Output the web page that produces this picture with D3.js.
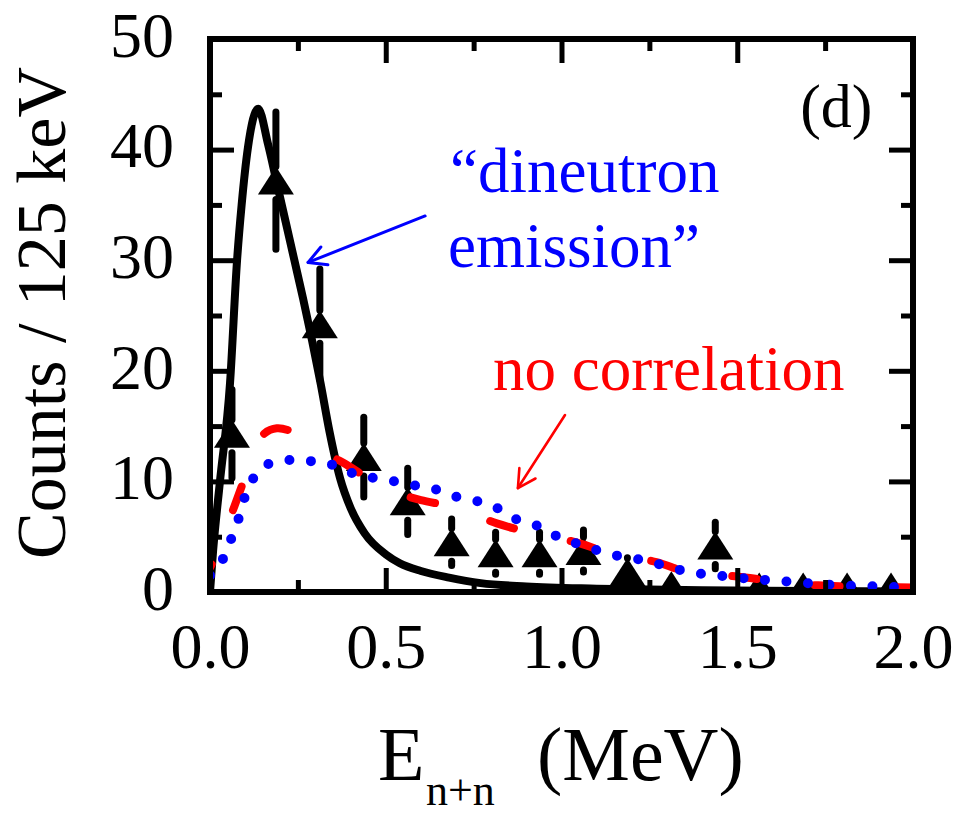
<!DOCTYPE html>
<html>
<head>
<meta charset="utf-8">
<script src="https://cdn.jsdelivr.net/npm/d3@7"></script>
<style>
  html, body { margin: 0; padding: 0; background: #fff; }
  svg { display: block; }
  text { font-family: "Liberation Serif", "Times New Roman", "DejaVu Serif", serif; }
</style>
</head>
<body>
<svg id="chart" width="955" height="815"></svg>
<script>
// Measured n+n relative-energy spectrum (counts per 125 keV bin)
const energyBins = [0.0625, 0.1875, 0.3125, 0.4375, 0.5625, 0.6875, 0.8125, 0.9375,
                    1.0625, 1.1875, 1.3125, 1.4375, 1.5625, 1.6875, 1.8125, 1.9375];
const counts      = [14.3, 37.2, 24.2, 12.2, 8.2, 4.5, 3.5, 3.5,
                     3.7, 1.8, 0.6, 4.2, 0.5, 0.5, 0.5, 0.5];
const countErrors = [4.0, 6.2, 5.0, 3.6, 3.0, 2.1, 1.9, 1.9,
                     1.9, 1.3, 0.8, 2.1, 0.7, 0.7, 0.7, 0.7];

// Model curves: [E (MeV), counts]
const dineutronCurve = [
  [0, 0], [0.009, 3.8], [0.028, 9.9], [0.057, 18.9], [0.077, 30], [0.09, 35],
  [0.108, 40.2], [0.137, 43.7], [0.165, 40.5], [0.19, 37.0], [0.215, 33.5],
  [0.24, 30.0], [0.265, 26.5], [0.29, 22.8], [0.315, 18.8], [0.34, 14.5],
  [0.37, 10.3], [0.40, 7.6], [0.44, 5.3], [0.5, 3.4], [0.54, 2.6], [0.6, 1.9],
  [0.68, 1.3], [0.77, 0.8], [0.9, 0.5], [1.1, 0.3], [1.4, 0.15], [2.0, 0.05]
];
const noCorrelationCurve = [
  [0, 2.2], [0.03, 4.2], [0.062, 7.1], [0.094, 9.9], [0.12, 12.3], [0.15, 14.2],
  [0.19, 14.8], [0.247, 14.3], [0.3, 13.0], [0.378, 11.7], [0.46, 10.1], [0.53, 9.0],
  [0.6, 8.3], [0.69, 7.7], [0.816, 6.2], [0.91, 5.4], [1.04, 4.5], [1.13, 3.6],
  [1.27, 2.7], [1.36, 1.8], [1.5, 1.4], [1.6, 1.0], [1.73, 0.6], [1.85, 0.5], [2.0, 0.4]
];
const dineutronEmissionCurve = [
  [0, 1.5], [0.02, 2.0], [0.05, 4.0], [0.08, 6.5], [0.11, 9.5], [0.15, 11.3],
  [0.21, 11.9], [0.27, 11.85], [0.33, 11.7], [0.39, 10.9], [0.45, 10.4], [0.51, 10.1],
  [0.57, 9.7], [0.63, 9.4], [0.69, 8.7], [0.75, 8.3], [0.81, 7.7], [0.87, 6.6],
  [0.93, 6.0], [0.99, 5.0], [1.05, 4.3], [1.11, 3.7], [1.17, 3.2], [1.23, 2.9],
  [1.29, 2.4], [1.35, 1.9], [1.41, 1.6], [1.47, 1.4], [1.53, 1.2], [1.6, 1.05],
  [1.7, 0.8], [1.8, 0.6], [1.9, 0.5], [2.0, 0.4]
];

// Axis ticks
const xMajorTicks = [0, 0.5, 1.0, 1.5, 2.0];
const xMinorTicks = [0.25, 0.75, 1.25, 1.75];
const yMajorTicks = [0, 10, 20, 30, 40, 50];
const yMinorTicks = [5, 15, 25, 35, 45];

const svg = d3.select("#chart");
const x = d3.scaleLinear().domain([0, 2]).range([210, 913]);
const y = d3.scaleLinear().domain([0, 50]).range([592, 39]);

svg.append("defs").append("clipPath").attr("id", "plot-clip")
  .append("rect")
  .attr("x", x(0)).attr("y", y(50))
  .attr("width", x(2) - x(0)).attr("height", y(0) - y(50));

const plot = svg.append("g").attr("clip-path", "url(#plot-clip)");

// Data points: error bars and filled triangles
const triW = 36, triH = 28;
energyBins.forEach((e, i) => {
  const cx = x(e), cy = y(counts[i]);
  const top = y(counts[i] + countErrors[i]);
  const bot = y(Math.max(counts[i] - countErrors[i], 0));
  if (cy - triH / 2 - top > 0) {
    plot.append("line").attr("x1", cx).attr("x2", cx)
      .attr("y1", top).attr("y2", cy - triH / 2)
      .attr("stroke", "#000").attr("stroke-width", 7).attr("stroke-linecap", "round");
  }
  if (bot - (cy + triH / 2 + 5) > 0) {
    plot.append("line").attr("x1", cx).attr("x2", cx)
      .attr("y1", cy + triH / 2 + 5).attr("y2", bot)
      .attr("stroke", "#000").attr("stroke-width", 7).attr("stroke-linecap", "round");
  }
  plot.append("path")
    .attr("transform", `translate(${cx},${cy})`)
    .attr("d", `M0,${-triH / 2}L${triW / 2},${triH / 2}L${-triW / 2},${triH / 2}Z`)
    .attr("fill", "#000");
});

// Model curves
const line = d3.line().x(d => x(d[0])).y(d => y(d[1]));

plot.append("path")
  .attr("d", line.curve(d3.curveMonotoneX)(dineutronCurve))
  .attr("fill", "none").attr("stroke", "#000").attr("stroke-width", 8)
  .attr("stroke-linejoin", "round");

plot.append("path")
  .attr("d", line.curve(d3.curveCatmullRom)(noCorrelationCurve))
  .attr("fill", "none").attr("stroke", "#ff0000").attr("stroke-width", 8)
  .attr("stroke-linecap", "round").attr("stroke-dasharray", "25,58")
  .attr("stroke-dashoffset", 21);

plot.append("path")
  .attr("d", line.curve(d3.curveCatmullRom)(dineutronEmissionCurve))
  .attr("fill", "none").attr("stroke", "#0000ff").attr("stroke-width", 10)
  .attr("stroke-linecap", "round").attr("stroke-dasharray", "0,21.5");

// Axes with inward ticks on all four sides
function styleAxis(g) {
  g.select(".domain").remove();
  g.attr("font-family", null).attr("font-size", null);
  g.selectAll(".tick line").attr("stroke", "#000").attr("stroke-width", 5);
  g.selectAll(".tick text").attr("fill", "#000").attr("font-size", 64);
}

svg.append("g").attr("transform", `translate(0,${y(0)})`)
  .call(d3.axisBottom(x).tickValues(xMajorTicks).tickSize(-24).tickPadding(31)
    .tickFormat(d3.format(".1f")))
  .call(styleAxis);
svg.append("g").attr("transform", `translate(0,${y(0)})`)
  .call(d3.axisBottom(x).tickValues(xMinorTicks).tickSize(-12).tickFormat(""))
  .call(styleAxis);
svg.append("g").attr("transform", `translate(0,${y(50)})`)
  .call(d3.axisTop(x).tickValues(xMajorTicks).tickSize(-24).tickFormat(""))
  .call(styleAxis);
svg.append("g").attr("transform", `translate(0,${y(50)})`)
  .call(d3.axisTop(x).tickValues(xMinorTicks).tickSize(-12).tickFormat(""))
  .call(styleAxis);

svg.append("g").attr("transform", `translate(${x(0)},0)`)
  .call(d3.axisLeft(y).tickValues(yMajorTicks).tickSize(-24).tickPadding(36)
    .tickFormat(d3.format("d")))
  .call(styleAxis)
  .selectAll(".tick text").attr("dy", "0.27em");
svg.append("g").attr("transform", `translate(${x(0)},0)`)
  .call(d3.axisLeft(y).tickValues(yMinorTicks).tickSize(-12).tickFormat(""))
  .call(styleAxis);
svg.append("g").attr("transform", `translate(${x(2)},0)`)
  .call(d3.axisRight(y).tickValues(yMajorTicks).tickSize(-24).tickFormat(""))
  .call(styleAxis);
svg.append("g").attr("transform", `translate(${x(2)},0)`)
  .call(d3.axisRight(y).tickValues(yMinorTicks).tickSize(-12).tickFormat(""))
  .call(styleAxis);

// Frame
svg.append("rect")
  .attr("x", x(0)).attr("y", y(50))
  .attr("width", x(2) - x(0)).attr("height", y(0) - y(50))
  .attr("fill", "none").attr("stroke", "#000").attr("stroke-width", 6);

// Axis titles
svg.append("text")
  .attr("transform", "translate(65,313) rotate(-90)")
  .attr("text-anchor", "middle").attr("font-size", 70).attr("fill", "#000")
  .text("Counts / 125 keV");

const xTitle = svg.append("text").attr("fill", "#000").attr("y", 780);
xTitle.append("tspan").attr("x", 378).attr("font-size", 76).text("E");
xTitle.append("tspan").attr("x", 426).attr("y", 805).attr("font-size", 44).text("n+n");
xTitle.append("tspan").attr("x", 537).attr("y", 780).attr("font-size", 76).text("(MeV)");

// Panel label
svg.append("text").attr("x", x(1.679)).attr("y", y(42.0))
  .attr("font-size", 62).attr("fill", "#000").text("(d)");

// Annotations
svg.append("text").attr("x", x(0.683)).attr("y", y(36.2))
  .attr("font-size", 63).attr("fill", "#0000ff").text("\u201Cdineutron");
svg.append("text").attr("x", x(0.677)).attr("y", y(29.4))
  .attr("font-size", 63).attr("fill", "#0000ff").text("emission\u201D");
svg.append("text").attr("x", x(0.805)).attr("y", y(18.3))
  .attr("font-size", 63).attr("fill", "#ff0000").text("no correlation");

function arrow(tail, tip, color, width, headLen, headAngle) {
  const x1 = x(tail[0]), y1 = y(tail[1]), x2 = x(tip[0]), y2 = y(tip[1]);
  const a = Math.atan2(y1 - y2, x1 - x2);
  const g = svg.append("g").attr("stroke", color).attr("stroke-width", width)
    .attr("fill", "none").attr("stroke-linecap", "round").attr("stroke-linejoin", "round");
  g.append("line").attr("x1", x1).attr("y1", y1).attr("x2", x2).attr("y2", y2);
  const p = d3.path();
  p.moveTo(x2 + headLen * Math.cos(a + headAngle), y2 + headLen * Math.sin(a + headAngle));
  p.lineTo(x2, y2);
  p.lineTo(x2 + headLen * Math.cos(a - headAngle), y2 + headLen * Math.sin(a - headAngle));
  g.append("path").attr("d", p.toString());
}
arrow([0.612, 34.0], [0.279, 29.8], "#0000ff", 3, 20, 0.5);
arrow([1.01, 16.0], [0.876, 9.4], "#ff0000", 2.6, 20, 0.5);
</script>
</body>
</html>
